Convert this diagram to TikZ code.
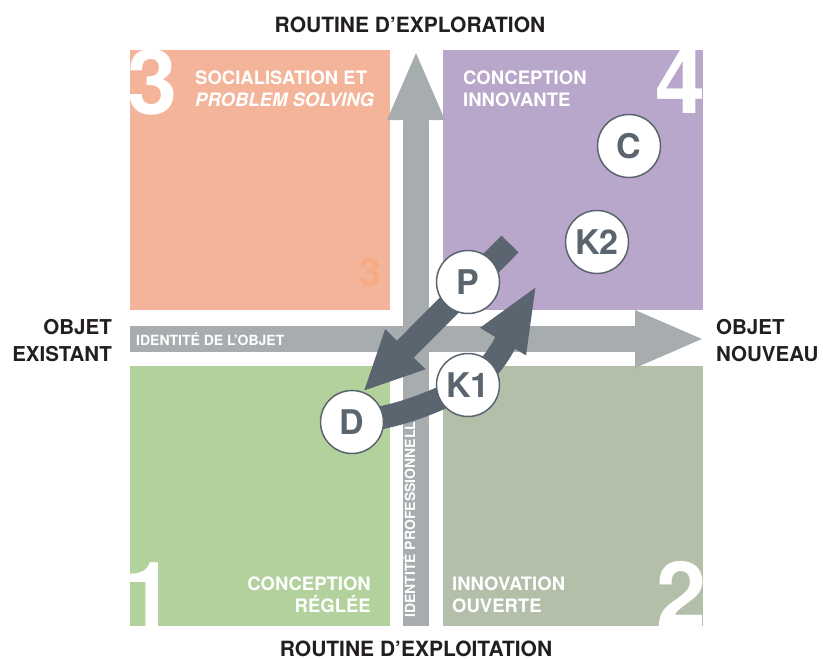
\documentclass[tikz,border=0pt]{standalone}
\usepackage{fontspec}
\setmainfont{TeX Gyre Heros}
\usetikzlibrary{arrows.meta, positioning}

\definecolor{salmon}{RGB}{243,180,154}
\definecolor{lilac}{RGB}{184,167,203}
\definecolor{sage}{RGB}{179,209,157}
\definecolor{greige}{RGB}{180,191,170}
\definecolor{bargrey}{RGB}{167,172,175}
\definecolor{slate}{RGB}{90,101,111}
\definecolor{faint}{RGB}{247,170,132}
\definecolor{ink}{RGB}{35,31,32}

\pgfdeclarelayer{back}
\pgfdeclarelayer{mid}
\pgfsetlayers{back,mid,main}

\tikzset{
  quad/.style={inner sep=0, minimum width=260pt, minimum height=260pt},
  bignum/.style={inner sep=0, text=white, font=\fontsize{90}{90}\selectfont\bfseries},
  quadtext/.style={inner sep=0, text=white, font=\fontsize{18.5}{22}\selectfont\bfseries},
  axislabel/.style={inner sep=0, text=ink, font=\fontsize{20.5}{27.5}\selectfont\bfseries},
  bar/.style={line width=26pt, draw=bargrey, -{Triangle[length=70pt,width=52pt]}},
  bartext/.style={inner sep=0, text=white, font=\fontsize{14}{14}\selectfont\bfseries},
  flow/.style={line width=24pt, draw=slate},
  stage/.style={circle, draw=slate, line width=1.5pt, fill=white, text=slate,
    minimum size=63pt, inner sep=0, font=\fontsize{34}{34}\selectfont\bfseries}
}

\begin{document}
\begin{tikzpicture}[x=1pt,y=-1pt]
\useasboundingbox (0,0) rectangle (823,659);

\begin{pgfonlayer}{back}
% the four quadrants
\node[quad,fill=salmon] (q3) at (259.5,179.5) {};
\node[quad,fill=lilac] (q4) at (573,179.5) {};
\node[quad,fill=sage] (q1) at (259.5,495.5) {};
\node[quad,fill=greige] (q2) at (573,495.5) {};

% big numbers, cut by their square
\begin{scope}
  \clip (q3.north west) rectangle (q3.south east);
  \node[bignum,anchor=base west] (n3) at (127,114) {3};
  \node[inner sep=0,anchor=base east,text=faint,font=\fontsize{39}{39}\selectfont\bfseries] (m3) at (381,286) {3};
\end{scope}
\begin{scope}
  \clip (q4.north west) rectangle (q4.south east);
  \node[bignum,anchor=base east] (n4) at (705.5,113) {4};
\end{scope}
\begin{scope}
  \clip (q1.north west) rectangle (q1.south east);
  \node[bignum,anchor=base west] (n1) at (124,626) {1};
\end{scope}
\begin{scope}
  \clip (q2.north west) rectangle (q2.south east);
  \node[bignum,anchor=base east] (n2) at (707,626) {2};
\end{scope}

% quadrant titles
\node[quadtext,anchor=north west,align=left] (t3) at (195,71) {SOCIALISATION ET\\\textit{PROBLEM SOLVING}};
\node[quadtext,anchor=north west,align=left] (t4) at (463,71) {CONCEPTION\\INNOVANTE};
\node[quadtext,anchor=north east,align=right] (t1) at (371,577) {CONCEPTION\\RÉGLÉE};
\node[quadtext,anchor=north west,align=left] (t2) at (452,577) {INNOVATION\\OUVERTE};

% axes
\coordinate (hstart) at (130,339);
\coordinate (hend) at (705,339);
\coordinate (vstart) at (416,626);
\coordinate (vend) at (416,50);
\draw[bar] (hstart) -- (hend);
\draw[bar] (vstart) -- (vend);
\node[bartext,anchor=base west] (objid) at (136,345) {IDENTITÉ DE L’OBJET};
\node[bartext,anchor=base west,rotate=90] (proid) at (415,618) {IDENTITÉ PROFESSIONNELLE};

% axis ends
\node[axislabel,anchor=base,font=\fontsize{21}{21}\selectfont\bfseries] (explo) at (410,32) {ROUTINE D’EXPLORATION};
\node[axislabel,anchor=base,font=\fontsize{21}{21}\selectfont\bfseries] (exploit) at (416,656) {ROUTINE D’EXPLOITATION};
\node[axislabel,anchor=north east,align=right] (old) at (112,319) {OBJET\\EXISTANT};
\node[axislabel,anchor=north west,align=left] (new) at (716,319) {OBJET\\NOUVEAU};
\end{pgfonlayer}

% C-K stages
\node[stage] (C) at (629,146) {C};
\node[stage] (K2) at (597,242) {K2};
\node[stage] (P) at (468,282) {P};
\node[stage] (K1) at (468,385) {K1};
\node[stage] (D) at (352,422) {D};

\begin{pgfonlayer}{mid}
\coordinate (ptail) at (510,244);
\coordinate (k1tip) at (537,285);
\draw[flow,-{Triangle[length=60pt,width=52pt]}] (ptail) -- (D.70);
\draw[flow,line width=23pt,-{Triangle[length=66pt,width=48pt]}] (D.center)
  .. controls +(45,-4) and +(-35,18) .. (K1.center)
  .. controls +(30,-16) and +(-18,30) .. (k1tip);
\end{pgfonlayer}
\end{tikzpicture}
\end{document}
